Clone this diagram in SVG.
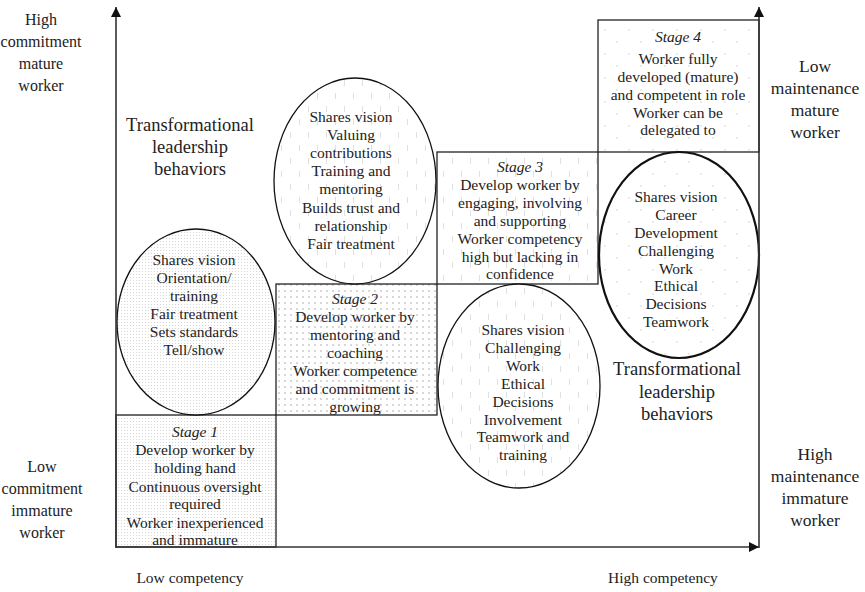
<svg xmlns="http://www.w3.org/2000/svg" width="865" height="592" viewBox="0 0 865 592">
  <defs>
    <style>
      text { font-family: "Liberation Serif", "Times New Roman", serif; fill: #222; text-anchor: middle; }
      .t { font-size: 15.5px; }
      .side { font-size: 16px; }
      .sider { font-size: 17.5px; }
      .big { font-size: 18.5px; }
      .it { font-style: italic; }
      .box { stroke: #222; stroke-width: 1.3; }
      .ell { stroke: #111; stroke-width: 1.3; }
      .ell-bold { stroke: #111; stroke-width: 2.2; }
      .axis { stroke: #333; stroke-width: 1.6; fill: none; }
    </style>
    <!-- fine stipple -->
    <pattern id="pFine" width="3" height="3" patternUnits="userSpaceOnUse">
      <rect width="3" height="3" fill="#fff"/>
      <rect x="1" y="1" width="1" height="1" fill="#d6d6d6"/>
    </pattern>
    <!-- dot grid -->
    <pattern id="pGrid" width="6" height="6" patternUnits="userSpaceOnUse">
      <rect width="6" height="6" fill="#fff"/>
      <circle cx="3" cy="3" r="0.8" fill="#a8a8a8"/>
    </pattern>
    <!-- short vertical dashes -->
    <pattern id="pDash" width="18" height="26" patternUnits="userSpaceOnUse">
      <rect width="18" height="26" fill="#fff"/>
      <rect x="2" y="2" width="1" height="6" fill="#e0e0e0"/>
      <rect x="11" y="15" width="1" height="6" fill="#e0e0e0"/>
    </pattern>
    <!-- sparse dots -->
    <pattern id="pSparse" width="24" height="24" patternUnits="userSpaceOnUse">
      <rect width="24" height="24" fill="#fff"/>
      <circle cx="5" cy="6" r="0.8" fill="#d0d0d0"/>
      <circle cx="17" cy="18" r="0.8" fill="#d0d0d0"/>
    </pattern>
    <marker id="arr" viewBox="0 0 10 10" refX="10" refY="5" markerWidth="10" markerHeight="10" markerUnits="userSpaceOnUse" orient="auto">
      <path d="M0,0 L10,5 L0,10 Z" fill="#111"/>
    </marker>
  </defs>

  <rect width="865" height="592" fill="#fff"/>

  <!-- stage boxes -->
  <g id="stage1">
    <rect class="box" x="116" y="415" width="160" height="132" fill="url(#pFine)"/>
    <text class="t it" x="195" y="437">Stage 1</text>
    <text class="t" x="195" y="455">Develop worker by</text>
    <text class="t" x="195" y="473">holding hand</text>
    <text class="t" x="195" y="492">Continuous oversight</text>
    <text class="t" x="195" y="509">required</text>
    <text class="t" x="195" y="528">Worker inexperienced</text>
    <text class="t" x="195" y="545">and immature</text>
  </g>

  <g id="stage2">
    <rect class="box" x="276" y="284" width="161" height="131" fill="url(#pGrid)"/>
    <text class="t it" x="355" y="304">Stage 2</text>
    <text class="t" x="355" y="322">Develop worker by</text>
    <text class="t" x="355" y="340">mentoring and</text>
    <text class="t" x="355" y="358">coaching</text>
    <text class="t" x="355" y="376">Worker competence</text>
    <text class="t" x="355" y="394">and commitment is</text>
    <text class="t" x="355" y="412">growing</text>
  </g>

  <g id="stage3">
    <rect class="box" x="437" y="152" width="161" height="132" fill="url(#pDash)"/>
    <text class="t it" x="520" y="172">Stage 3</text>
    <text class="t" x="520" y="190">Develop worker by</text>
    <text class="t" x="520" y="208">engaging, involving</text>
    <text class="t" x="520" y="226">and supporting</text>
    <text class="t" x="520" y="244">Worker competency</text>
    <text class="t" x="520" y="262">high but lacking in</text>
    <text class="t" x="520" y="279">confidence</text>
  </g>

  <g id="stage4">
    <rect class="box" x="598" y="20" width="161" height="132" fill="url(#pSparse)"/>
    <text class="t it" x="678" y="42">Stage 4</text>
    <text class="t" x="678" y="64">Worker fully</text>
    <text class="t" x="678" y="82">developed (mature)</text>
    <text class="t" x="678" y="100">and competent in role</text>
    <text class="t" x="678" y="118">Worker can be</text>
    <text class="t" x="678" y="135">delegated to</text>
  </g>

  <!-- behaviour ellipses -->
  <g id="ellipse1">
    <ellipse class="ell" cx="196" cy="322" rx="79" ry="93" fill="url(#pFine)"/>
    <text class="t" x="194" y="265">Shares vision</text>
    <text class="t" x="194" y="283">Orientation/</text>
    <text class="t" x="194" y="301">training</text>
    <text class="t" x="194" y="319">Fair treatment</text>
    <text class="t" x="194" y="337">Sets standards</text>
    <text class="t" x="194" y="355">Tell/show</text>
  </g>

  <g id="ellipse2">
    <ellipse class="ell" cx="355" cy="181" rx="81" ry="103" fill="url(#pDash)"/>
    <text class="t" x="351" y="122">Shares vision</text>
    <text class="t" x="351" y="140">Valuing</text>
    <text class="t" x="351" y="158">contributions</text>
    <text class="t" x="351" y="176">Training and</text>
    <text class="t" x="351" y="194">mentoring</text>
    <text class="t" x="351" y="213">Builds trust and</text>
    <text class="t" x="351" y="231">relationship</text>
    <text class="t" x="351" y="249">Fair treatment</text>
  </g>

  <g id="ellipse3">
    <ellipse class="ell" cx="519" cy="386" rx="81" ry="102" fill="url(#pDash)"/>
    <text class="t" x="523" y="335">Shares vision</text>
    <text class="t" x="523" y="353">Challenging</text>
    <text class="t" x="523" y="371">Work</text>
    <text class="t" x="523" y="389">Ethical</text>
    <text class="t" x="523" y="407">Decisions</text>
    <text class="t" x="523" y="425">Involvement</text>
    <text class="t" x="523" y="442">Teamwork and</text>
    <text class="t" x="523" y="460">training</text>
  </g>

  <g id="ellipse4">
    <ellipse class="ell-bold" cx="679" cy="255" rx="80" ry="103" fill="url(#pSparse)"/>
    <text class="t" x="676" y="202">Shares vision</text>
    <text class="t" x="676" y="220">Career</text>
    <text class="t" x="676" y="238">Development</text>
    <text class="t" x="676" y="256">Challenging</text>
    <text class="t" x="676" y="274">Work</text>
    <text class="t" x="676" y="291">Ethical</text>
    <text class="t" x="676" y="309">Decisions</text>
    <text class="t" x="676" y="327">Teamwork</text>
  </g>

  <!-- axes -->
  <g id="connectors">
    <line class="axis" x1="116" y1="548" x2="116" y2="7" marker-end="url(#arr)"/>
    <line class="axis" x1="116" y1="547" x2="759" y2="547" marker-end="url(#arr)"/>
    <line class="axis" x1="759" y1="548" x2="759" y2="7" marker-end="url(#arr)"/>
  </g>

  <!-- axis labels -->
  <g id="label-high-commitment">
    <text class="side" x="41" y="25">High</text>
    <text class="side" x="41" y="47">commitment</text>
    <text class="side" x="41" y="69">mature</text>
    <text class="side" x="41" y="91">worker</text>
  </g>
  <g id="label-low-commitment">
    <text class="side" x="42" y="472">Low</text>
    <text class="side" x="42" y="494">commitment</text>
    <text class="side" x="42" y="516">immature</text>
    <text class="side" x="42" y="538">worker</text>
  </g>
  <g id="label-low-maintenance">
    <text class="sider" x="815" y="72">Low</text>
    <text class="sider" x="815" y="94">maintenance</text>
    <text class="sider" x="815" y="116">mature</text>
    <text class="sider" x="815" y="138">worker</text>
  </g>
  <g id="label-high-maintenance">
    <text class="sider" x="815" y="460">High</text>
    <text class="sider" x="815" y="482">maintenance</text>
    <text class="sider" x="815" y="504">immature</text>
    <text class="sider" x="815" y="526">worker</text>
  </g>
  <g id="label-low-competency">
    <text class="t" x="190" y="583">Low competency</text>
  </g>
  <g id="label-high-competency">
    <text class="t" x="663" y="583">High competency</text>
  </g>
  <g id="label-transformational-upper">
    <text class="big" x="190" y="131">Transformational</text>
    <text class="big" x="190" y="153">leadership</text>
    <text class="big" x="190" y="175">behaviors</text>
  </g>
  <g id="label-transformational-lower">
    <text class="big" x="677" y="375">Transformational</text>
    <text class="big" x="677" y="398">leadership</text>
    <text class="big" x="677" y="420">behaviors</text>
  </g>
</svg>
